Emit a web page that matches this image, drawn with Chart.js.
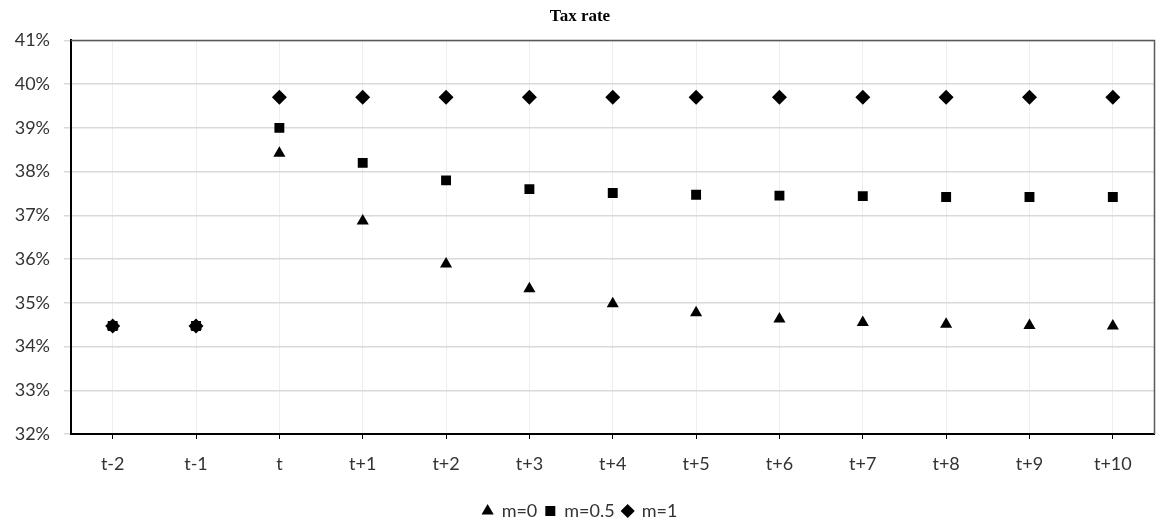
<!DOCTYPE html>
<html>
<head>
<meta charset="utf-8">
<script src="https://cdn.jsdelivr.net/npm/chart.js@4"></script>
<style>
  html, body { margin: 0; padding: 0; background: #fff; overflow: hidden; }
  canvas { display: block; }
</style>
</head>
<body>
<canvas id="myChart" width="1162" height="524"></canvas>
<script>
let periods = ['t-2', 't-1', 't', 't+1', 't+2', 't+3', 't+4', 't+5', 't+6', 't+7', 't+8', 't+9', 't+10'];
let m0 = [34.47, 34.47, 38.42, 36.87, 35.89, 35.32, 34.98, 34.77, 34.63, 34.55, 34.51, 34.48, 34.47];
let m05 = [34.47, 34.47, 39.0, 38.2, 37.8, 37.6, 37.51, 37.47, 37.45, 37.44, 37.42, 37.42, 37.42];
let m1 = [34.47, 34.47, 39.7, 39.7, 39.7, 39.7, 39.7, 39.7, 39.7, 39.7, 39.7, 39.7, 39.7];
let yTicks = [32, 33, 34, 35, 36, 37, 38, 39, 40, 41];

let labelFont = { family: 'Lato', size: 18 };

// top and right edge of the plot frame
let frame = {
    id: 'frame',
    beforeDatasetsDraw(chart) {
        let a = chart.chartArea, c = chart.ctx;
        c.save();
        c.strokeStyle = '#595959';
        c.lineWidth = 1.5;
        c.beginPath();
        c.moveTo(a.left, a.top);
        c.lineTo(a.right, a.top);
        c.lineTo(a.right, a.bottom);
        c.stroke();
        c.restore();
    }
};

let ctx = document.getElementById('myChart');
let myChart = new Chart(ctx, {
    type: 'line',
    data: {
        labels: periods,
        datasets: [{
            label: 'm=0',
            data: m0,
            pointStyle: 'triangle',
            pointRadius: 7
        }, {
            label: 'm=0.5',
            data: m05,
            pointStyle: 'rect',
            pointRadius: 7
        }, {
            label: 'm=1',
            data: m1,
            pointStyle: 'rectRot',
            pointRadius: 7.5
        }].map(d => Object.assign(d, {
            showLine: false,
            backgroundColor: '#000',
            borderColor: '#000',
            pointBorderWidth: 0,
            pointHoverRadius: d.pointRadius
        }))
    },
    options: {
        responsive: false,
        animation: false,
        devicePixelRatio: 1,
        layout: { padding: { left: 0, right: 2, top: 0, bottom: -6 } },
        plugins: {
            title: {
                display: true,
                text: 'Tax rate',
                color: '#000',
                font: { family: 'Liberation Serif', size: 17, weight: 'bold' },
                padding: { top: 6, bottom: 14 }
            },
            legend: {
                position: 'bottom',
                labels: {
                    usePointStyle: true,
                    boxWidth: 10,
                    boxHeight: 10,
                    padding: 8,
                    color: '#333',
                    font: labelFont
                }
            },
            tooltip: { enabled: false }
        },
        scales: {
            x: {
                offset: true,
                grid: {
                    offset: false,
                    color: '#eeeeee',
                    lineWidth: 1,
                    tickColor: '#000',
                    tickLength: 5
                },
                border: { color: '#000', width: 2 },
                ticks: { color: '#333', font: labelFont, padding: 14 },
                afterFit(scale) {
                    scale.height = 60;
                    scale.paddingLeft = 0;
                    scale.paddingRight = 0;
                }
            },
            y: {
                min: 32,
                max: 41,
                afterBuildTicks(scale) { scale.ticks = yTicks.map(v => ({ value: v })); },
                grid: { color: '#d9d9d9', lineWidth: 1.5, tickLength: 7 },
                border: { color: '#000', width: 2 },
                ticks: {
                    color: '#333',
                    font: labelFont,
                    padding: 14,
                    callback: v => v + '%'
                },
                afterFit(scale) { scale.width = 71; }
            }
        }
    },
    plugins: [frame]
});
</script>
</body>
</html>
